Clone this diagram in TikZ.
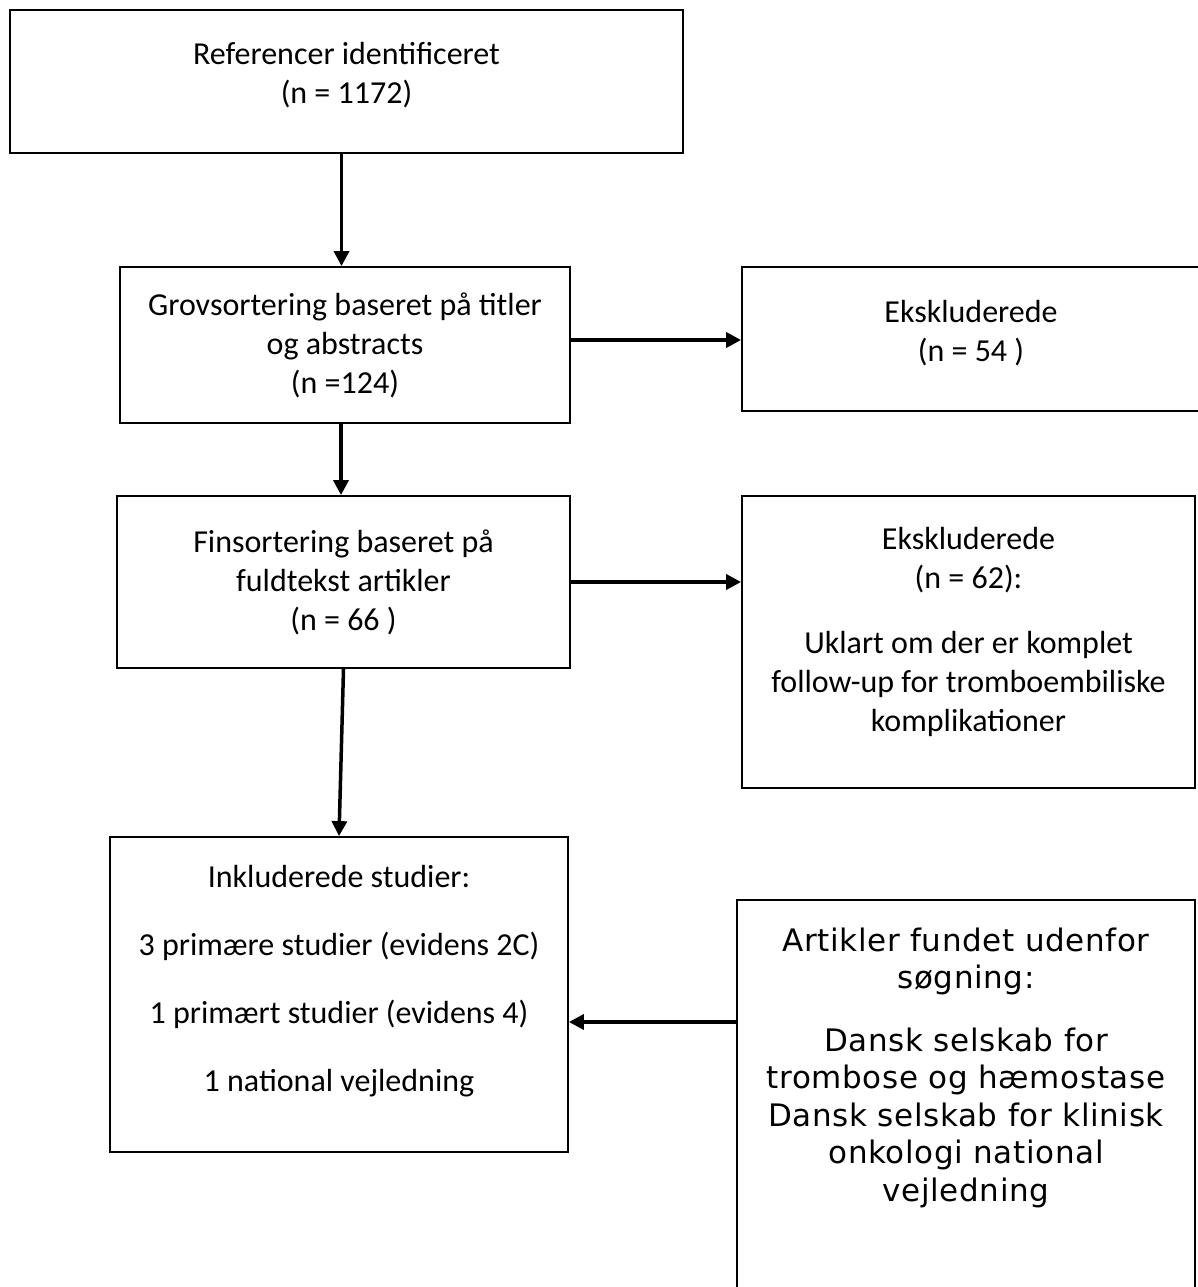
\documentclass[tikz,border=0pt]{standalone}
\usepackage{fontspec}
\setmainfont{Carlito}
\newfontfamily\artfont[LetterSpace=2.0]{DejaVu Sans}
\usetikzlibrary{arrows.meta, positioning}

\begin{document}
\begin{tikzpicture}[
  x=1pt, y=-1pt,
  box/.style={rectangle, draw, line width=1.8pt, inner sep=0pt,
    align=center, font=\fontsize{32}{39}\selectfont},
  arr/.style={-{Triangle[length=15pt, width=15pt]}, line width=3.5pt}
]
\useasboundingbox (0,0) rectangle (1197,1287);

\node[box, minimum width=673pt, minimum height=143pt] (refs) at (346.5,81.5)
  {Referencer identificeret\\(n = 1172)\\[-21pt]\mbox{}};
\node[box, minimum width=450pt, minimum height=156pt] (grov) at (345,345)
  {Grovsortering baseret på titler\\og abstracts\\(n =124)};
\node[box, minimum width=458pt, minimum height=144pt] (eks1) at (971,339)
  {Ekskluderede\\(n = 54 )\\[-22pt]\mbox{}};
\node[box, minimum width=453pt, minimum height=172pt] (fin) at (343.5,582)
  {Finsortering baseret på\\fuldtekst artikler\\(n = 66 )};
\node[box, minimum width=453pt, minimum height=292pt] (eks2) at (968.5,642)
  {Ekskluderede\\(n = 62):\\[26pt]Uklart om der er komplet\\follow-up for tromboembiliske\\komplikationer\\[-13pt]\mbox{}};
\node[box, minimum width=458pt, minimum height=315pt] (ink) at (339,994.5)
  {Inkluderede studier:\\[29pt]3 primære studier (evidens 2C)\\[29pt]1 primært studier (evidens 4)\\[29pt]1 national vejledning\\[-6pt]\mbox{}};

% box below the page edge
\node[box, minimum width=458pt, minimum height=400pt,
  font=\artfont\fontsize{31}{37.5}\selectfont] (art) at (966,1100)
  {Artikler fundet udenfor\\søgning:\\[25pt]Dansk selskab for\\trombose og hæmostase\\Dansk selskab for klinisk\\onkologi national\\vejledning\\[34pt]\mbox{}};

\draw[arr] ([xshift=-5pt]refs.south) -- ([xshift=-5pt]refs.south |- grov.north);
\draw[arr] ([yshift=5pt]grov.east) -- ([yshift=5pt]grov.east -| eks1.west);
\draw[arr] ([xshift=-4pt]grov.south) -- ([xshift=-4pt]grov.south |- fin.north);
\draw[arr] (fin.east) -- (fin.east -| eks2.west);
\draw[arr] (fin.south) -- (ink.north);
\draw[arr] ([yshift=78pt]art.west) -- ([yshift=78pt]art.west -| ink.east);
\end{tikzpicture}
\end{document}
